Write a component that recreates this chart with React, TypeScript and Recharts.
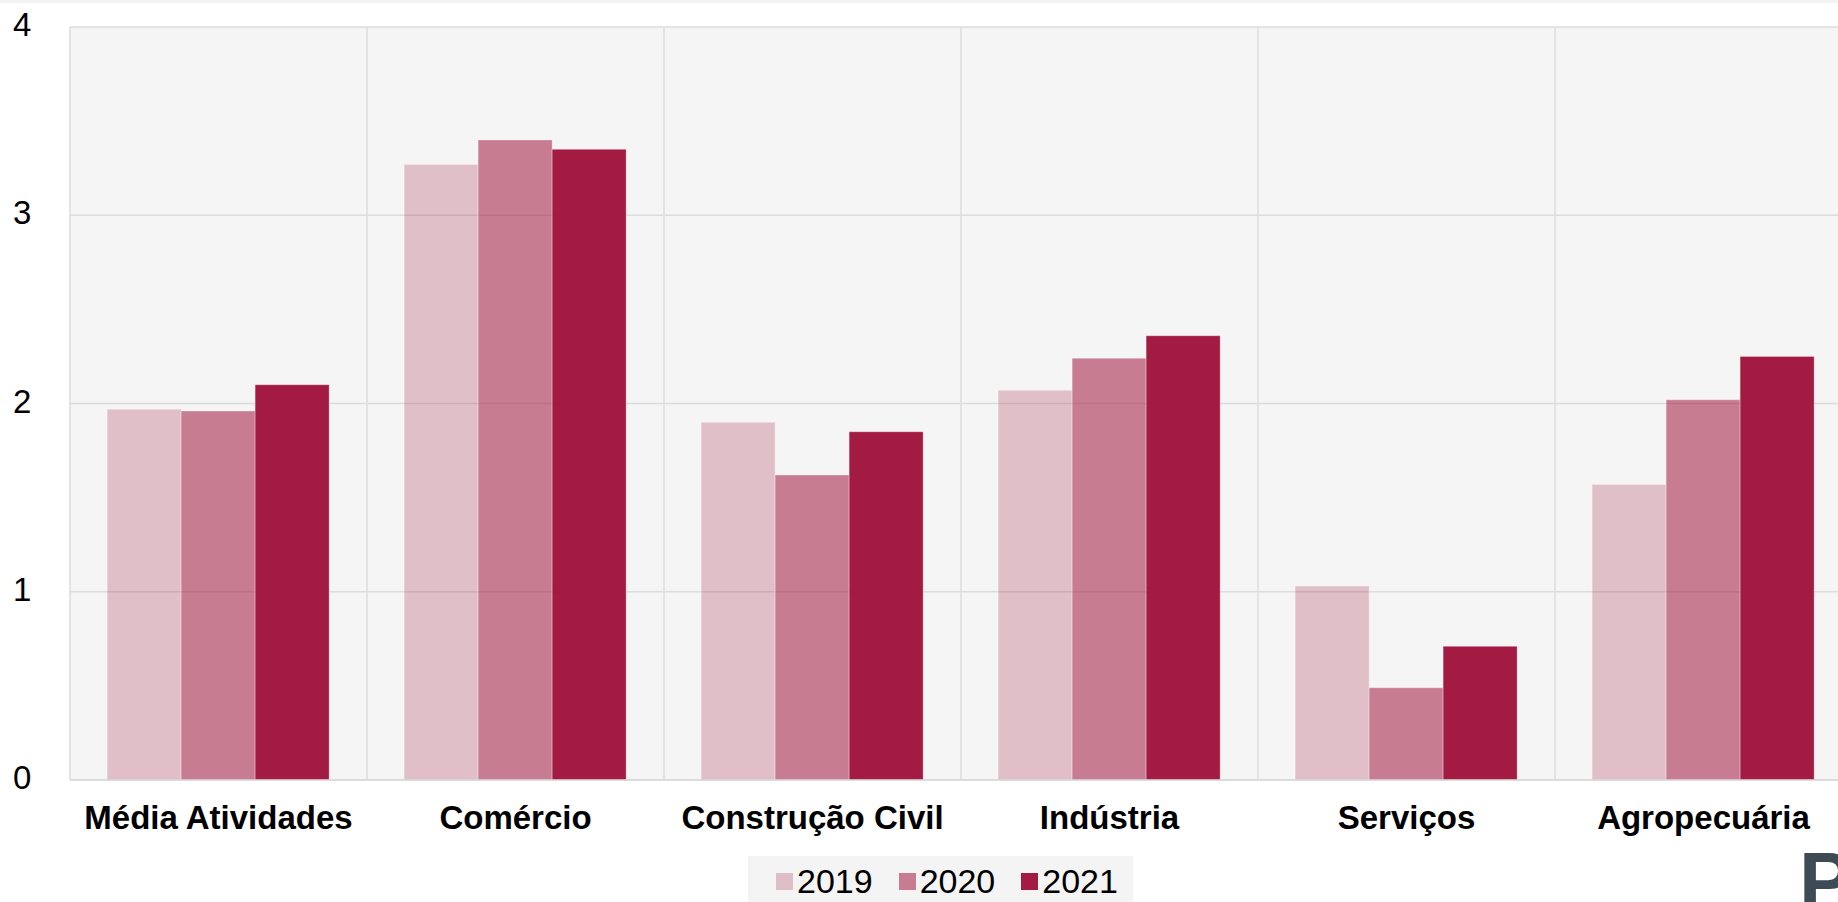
import React from 'react';
import { BarChart, Bar, XAxis, YAxis, CartesianGrid, Legend } from 'recharts';

const categories = ['Média Atividades', 'Comércio', 'Construção Civil', 'Indústria', 'Serviços', 'Agropecuária'];
const v2019 = [1.97, 3.27, 1.9, 2.07, 1.03, 1.57];
const v2020 = [1.96, 3.4, 1.62, 2.24, 0.49, 2.02];
const v2021 = [2.1, 3.35, 1.85, 2.36, 0.71, 2.25];
const seriesNames = ['2019', '2020', '2021'];
const seriesKeys = ['y2019', 'y2020', 'y2021'];
const seriesOpacity = [0.235, 0.527, 0.95];
const baseColor = '#9e0f39';
const yTicks = [0, 1, 2, 3, 4];

const data = categories.map((c, i) => ({ category: c, y2019: v2019[i], y2020: v2020[i], y2021: v2021[i] }));

const FONT = '"Liberation Sans", Arial, Helvetica, sans-serif';

const XTick = (props: any) => {
  const { x, y, payload } = props;
  return (
    <text x={x} y={y + 49} textAnchor="middle" fontFamily={FONT} fontWeight={700} fontSize={33} fill="#000">
      {payload.value}
    </text>
  );
};

const YTick = (props: any) => {
  const { y, payload } = props;
  return (
    <text x={13} y={y + 9} textAnchor="start" fontFamily={FONT} fontSize={33} fill="#000">
      {payload.value}
    </text>
  );
};

const LegendContent = () => (
  <div
    style={{
      display: 'flex',
      alignItems: 'center',
      background: '#f4f4f4',
      height: 50,
      paddingLeft: 28,
      boxSizing: 'border-box',
      fontFamily: FONT,
      fontSize: 34,
      color: '#000',
    }}
  >
    {seriesNames.map((n, i) => (
      <div key={n} style={{ display: 'flex', alignItems: 'center', marginRight: 26 }}>
        <span
          style={{
            display: 'inline-block',
            width: 17,
            height: 17,
            background: baseColor,
            opacity: seriesOpacity[i],
            marginRight: 4,
          }}
        />
        <span style={{ lineHeight: '34px' }}>{n}</span>
      </div>
    ))}
  </div>
);

export default function App() {
  return (
    <div
      style={{
        position: 'absolute',
        left: 0,
        top: 0,
        width: 1838,
        height: 902,
        overflow: 'hidden',
        background: '#fff',
      }}
    >
      <div style={{ position: 'absolute', left: 0, top: 0, width: 1838, height: 3, background: '#f3f3f3' }} />
      <BarChart
        width={1870}
        height={902}
        data={data}
        margin={{ top: 27, right: 18, bottom: 0, left: 0 }}
        barCategoryGap="12.5%"
        barGap={0}
      >
        <CartesianGrid
          fill="#f5f5f5"
          stroke="#dcdcdc"
          strokeWidth={1.5}
          verticalCoordinatesGenerator={({ offset }: any) => {
            const n = categories.length;
            const arr: number[] = [];
            for (let i = 0; i <= n; i++) arr.push(offset.left + (i * offset.width) / n);
            return arr;
          }}
        />
        <XAxis
          dataKey="category"
          height={122}
          tickLine={false}
          tickSize={0}
          tickMargin={0}
          axisLine={{ stroke: '#d9d9d9', strokeWidth: 1.5 }}
          tick={<XTick />}
          interval={0}
        />
        <YAxis
          width={70}
          domain={[0, 4]}
          ticks={yTicks}
          axisLine={false}
          tickLine={false}
          tick={<YTick />}
        />
        <Legend
          layout="horizontal"
          verticalAlign="middle"
          align="center"
          content={<LegendContent />}
          wrapperStyle={{ left: 748, top: 856, width: 385, height: 50 }}
        />
        {seriesKeys.map((k, i) => (
          <Bar
            key={k}
            dataKey={k}
            name={seriesNames[i]}
            fill={baseColor}
            fillOpacity={seriesOpacity[i]}
            stroke="#ffffff"
            strokeOpacity={0.3}
            strokeWidth={1}
            isAnimationActive={false}
          />
        ))}
      </BarChart>
      <svg style={{ position: 'absolute', left: 0, top: 0, pointerEvents: 'none' }} width={1838} height={902}>
        <text x={1799} y={908} fontFamily={FONT} fontWeight={900} fontSize={80} fill="#3c4b54">
          P
        </text>
      </svg>
    </div>
  );
}
